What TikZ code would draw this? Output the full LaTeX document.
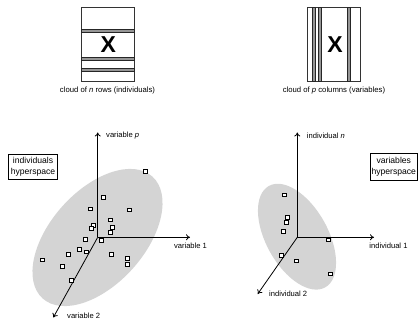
\documentclass[tikz,border=0pt]{standalone}
\usepackage{fontspec}
\setmainfont{Liberation Sans}
\usetikzlibrary{arrows.meta}
\definecolor{cloudgray}{RGB}{212,212,212}
\definecolor{bandgray}{RGB}{150,150,150}
\begin{document}
\begin{tikzpicture}[x=1pt,y=-1pt,
  matbox/.style={draw=black!80, line width=0.8pt},
  band/.style={draw=black!85, fill=bandgray, line width=0.6pt},
  bigx/.style={font=\fontsize{23}{23}\selectfont\bfseries, inner sep=0pt},
  caption/.style={font=\fontsize{7.7}{9}\selectfont, inner sep=0pt},
  axis/.style={line width=0.8pt, -{To[length=4pt,width=6pt]}},
  axlabel/.style={font=\fontsize{7.6}{9}\selectfont, inner sep=0pt},
  cloud/.style={fill=cloudgray, draw=none},
  pt/.style={draw=black, fill=white, line width=0.8pt, minimum size=3.8pt, inner sep=0pt},
  spacebox/.style={draw=black, line width=0.7pt, font=\fontsize{8.6}{10.7}\selectfont, align=center, inner sep=0pt}
]
\useasboundingbox (0,0) rectangle (418,320);

% ---- matrix of rows ----
\draw[matbox] (81.7,7.3) rectangle (134.3,81.7);
\draw[band] (81.7,29.3) rectangle (134.3,32.3);
\draw[band] (81.7,57.3) rectangle (134.3,60.3);
\draw[band] (81.7,68.3) rectangle (134.3,71.3);
\node[bigx] (xrows) at (108.3,45) {X};
\node[caption] (caprows) at (107.5,91) {cloud of \emph{n} rows (individuals)};

% ---- matrix of columns ----
\draw[matbox] (307.3,7.3) rectangle (360.7,81.7);
\draw[band] (312.7,7.3) rectangle (315.7,81.7);
\draw[band] (317.9,7.3) rectangle (320.9,81.7);
\draw[band] (347.7,7.3) rectangle (350.7,81.7);
\node[bigx] (xcols) at (335,45) {X};
\node[caption] (capcols) at (334,91) {cloud of \emph{p} columns (variables)};

% ---- individuals space ----
\fill[cloud] (97.5,237.5) ellipse [x radius=82, y radius=47, rotate=48];
\coordinate (o1) at (97.7,237.3);
\coordinate (v1) at (190,237.3);
\coordinate (vp) at (97.7,132.5);
\coordinate (v2) at (53.3,317.5);
\draw[axis] (o1) -- (v1);
\draw[axis] (o1) -- (vp);
\draw[axis] (o1) -- (v2);
\node[axlabel, anchor=west] (lvp) at (106,136) {variable \emph{p}};
\node[axlabel] (lv1) at (190.5,246) {variable 1};
\node[axlabel, anchor=west] (lv2) at (67,316) {variable 2};
\node[spacebox, minimum width=49.4pt, minimum height=25.3pt] (ihs) at (33,166.7) {individuals\\hyperspace};

\foreach \n/\x/\y in {a/145.7/171.7, b/103.3/197.3, c/90.7/209, d/129/210,
  e/110.7/220, f/93.3/225.3, g/91/228.3, h/112.3/227.7, i/110/232.7,
  j/85.3/239.3, k/101.7/240.7, l/79/249.7, m/86.7/252, n/68.3/254.7,
  o/111/254.3, p/42.3/260, q/127.7/258.3, r/127/264.3, s/62/266.3, t/71.7/280.7}
  \node[pt] (ind\n) at (\x,\y) {};

% ---- variables space ----
\fill[cloud] (297,236.7) ellipse [x radius=58, y radius=31, rotate=-61];
\coordinate (o2) at (297.3,237.3);
\coordinate (i1) at (374,237.3);
\coordinate (in) at (297.3,132.5);
\coordinate (i2) at (257.7,294);
\draw[axis] (o2) -- (i1);
\draw[axis] (o2) -- (in);
\draw[axis] (o2) -- (i2);
\node[axlabel, anchor=west] (lin) at (306.7,136) {individual \emph{n}};
\node[axlabel] (li1) at (388.5,246) {individual 1};
\node[axlabel, anchor=west] (li2) at (269,294) {individual 2};
\node[spacebox, minimum width=47pt, minimum height=26.7pt] (vhs) at (393.8,166.7) {variables\\hyperspace};

\foreach \n/\x/\y in {a/284/195, b/287.3/217.3, c/286.7/222.7, d/283.3/231.7,
  e/328/240, f/281.3/255.7, g/296.7/261, h/330/274}
  \node[pt] (var\n) at (\x,\y) {};
\end{tikzpicture}
\end{document}
